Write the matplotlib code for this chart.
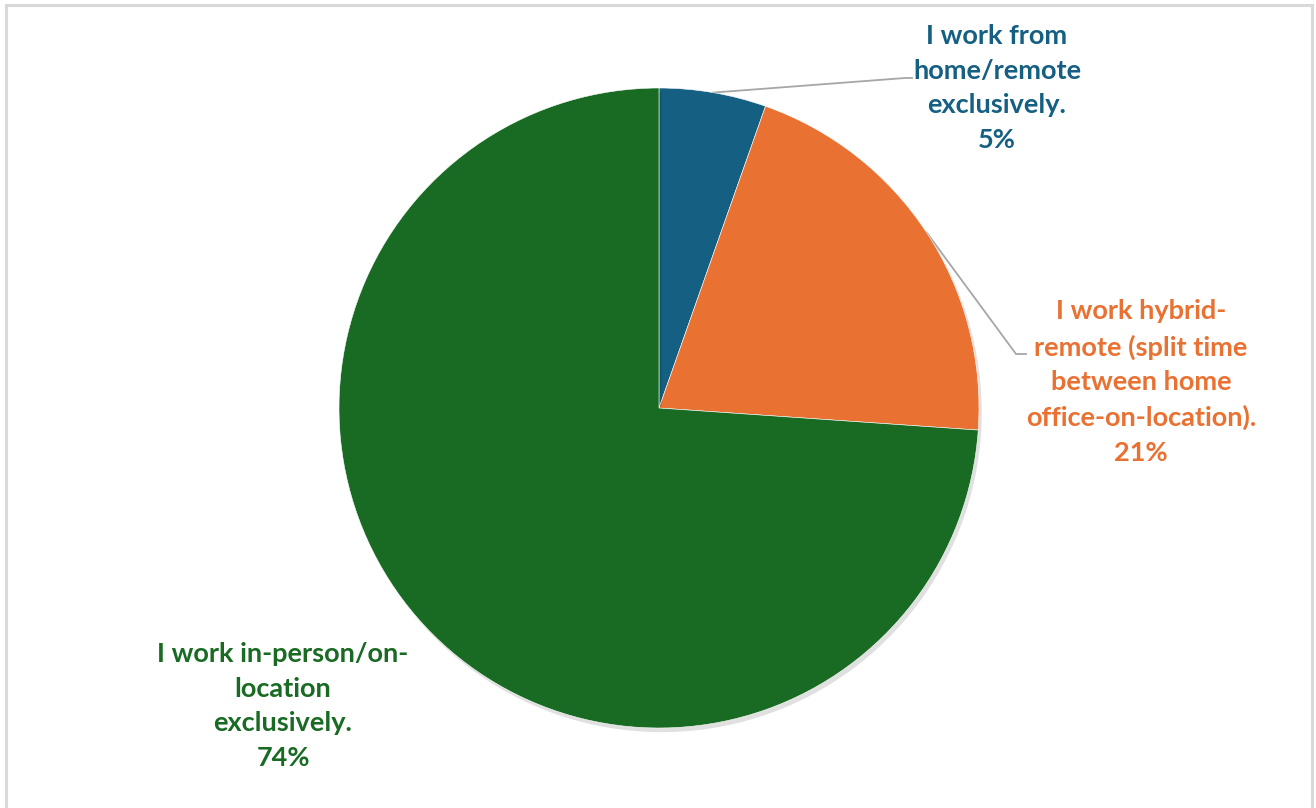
import numpy as np
import matplotlib
matplotlib.use('Agg')
import matplotlib.pyplot as plt
import matplotlib.patheffects as pe
from matplotlib.patches import Rectangle

# survey answers, share of respondents (%)
categories = ['I work from\nhome/remote\nexclusively.',
              'I work hybrid-\nremote (split time\nbetween home\noffice-on-location).',
              'I work in-person/on-\nlocation\nexclusively.']
shares = [5.4, 20.7, 73.9]
colors = ['#156082', '#E97132', '#196B24']

W, H = 1316, 808
plt.rcParams['font.family'] = ['Lato', 'DejaVu Sans']

fig = plt.figure(figsize=(W / 100, H / 100), dpi=100)
ax = fig.add_axes([0, 0, 1, 1])
ax.set_xlim(0, W)
ax.set_ylim(0, H)
ax.set_aspect('equal')
ax.axis('off')

cx, cy, r = 659, 400, 320
wedges, _ = ax.pie(shares, colors=colors, startangle=90, counterclock=False,
                   center=(cx, cy), radius=r, frame=True,
                   wedgeprops=dict(edgecolor='white', linewidth=0.4))
ax.set_xlim(0, W)
ax.set_ylim(0, H)
ax.axis('off')
for w in wedges:
    w.set_path_effects([pe.SimplePatchShadow(offset=(2, -3), shadow_rgbFace='#000000', alpha=0.12),
                        pe.Normal()])

# label anchor (centre of text block) and leader elbow for each slice
label_xy = [(997, 720), (1141, 426), (283, 102)]
elbows = [((905, 730), (912, 730)), ((1016, 454), (1026, 454)), None]

for w, txt, val, col, (lx, ly), elb in zip(wedges, categories, shares, colors, label_xy, elbows):
    ax.text(lx, ly, f'{txt}\n{val:.0f}%', ha='center', va='center', color=col,
            fontsize=19.5, fontweight='bold', linespacing=1.52)
    if elb is not None:
        mid = np.deg2rad((w.theta1 + w.theta2) / 2)
        sx, sy = cx + r * np.cos(mid), cy + r * np.sin(mid)
        (bx, by), (ex, ey) = elb
        ax.plot([sx, bx, ex], [sy, by, ey], color='#A6A6A6', lw=1.3,
                solid_joinstyle='miter', zorder=0.5)

# light chart-area border (open at the bottom)
fig.patches.append(Rectangle((6 / W, -0.05), 1306 / W, 1.05 - 5 / H, transform=fig.transFigure,
                             fill=False, edgecolor='#D9D9D9', linewidth=2.2))

fig.savefig('out.png', dpi=100, facecolor='white')
